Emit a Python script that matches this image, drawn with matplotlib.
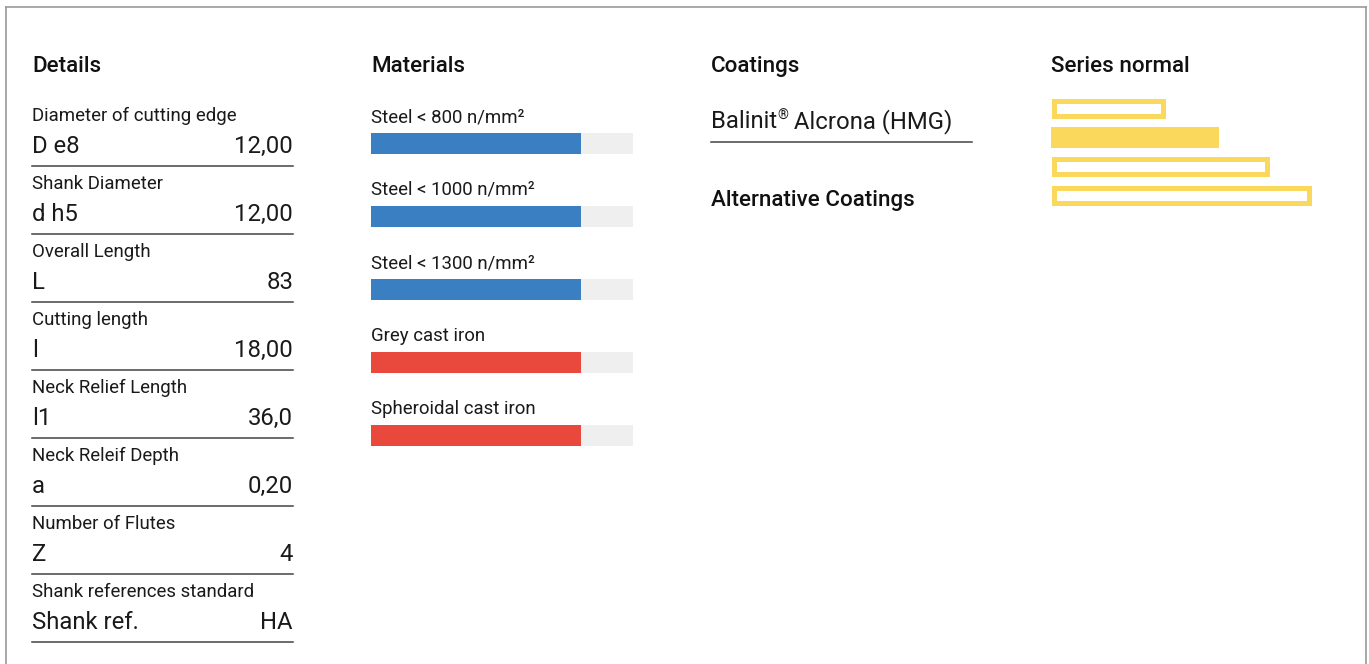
import matplotlib
matplotlib.use("Agg")
import matplotlib.pyplot as plt
from matplotlib.lines import Line2D

# ---- data ----
detail_labels = ["Diameter of cutting edge", "Shank Diameter", "Overall Length",
                 "Cutting length", "Neck Relief Length", "Neck Releif Depth",
                 "Number of Flutes", "Shank references standard"]
detail_symbols = ["D e8", "d h5", "L", "l", "l1", "a", "Z", "Shank ref."]
detail_values = ["12,00", "12,00", "83", "18,00", "36,0", "0,20", "4", "HA"]

material_names = ["Steel < 800 n/mm²", "Steel < 1000 n/mm²", "Steel < 1300 n/mm²",
                  "Grey cast iron", "Spheroidal cast iron"]
material_scores = [0.8, 0.8, 0.8, 0.8, 0.8]
material_groups = ["steel", "steel", "steel", "iron", "iron"]

coating_main = "Balinit"
coating_rest = " Alcrona (HMG)"

series_lengths = [0.44, 0.646, 0.842, 1.0]
series_filled = [False, True, False, False]

# ---- style ----
W, H = 1369, 664
TXT = "#1a1a1a"
group_colors = {"steel": "#3a7fc1", "iron": "#e8493c"}
track_color = "#efefef"
yellow = "#f9d85c"
body_font = ["Roboto", "DejaVu Sans"]
small_fs, big_fs = 13.4, 17.2
head_kw = dict(family=["Roboto", "DejaVu Sans"], fontweight="medium", fontsize=16.1,
               color="#111111", va="baseline")

fig = plt.figure(figsize=(W / 100, H / 100), dpi=100)
ax = fig.add_axes([0, 0, 1, 1])
ax.set_xlim(0, W)
ax.set_ylim(H, 0)
ax.axis("off")

# frame
for xs, ys in [((5.5, 1365.5), (6.5, 6.5)), ((5.5, 5.5), (6.5, 664)),
               ((1365.5, 1365.5), (6.5, 664))]:
    ax.add_line(Line2D(xs, ys, color="#9a9a9a", lw=1.2))

# headings
ax.text(32, 72, "Details", **head_kw)
ax.text(371, 72, "Materials", **head_kw)
ax.text(711, 72, "Coatings", **head_kw)
ax.text(711, 206, "Alternative Coatings", **head_kw)
ax.text(1051, 72, "Series normal", **head_kw)

# details table
pitch = 68
for i, (lab, sym, val) in enumerate(zip(detail_labels, detail_symbols, detail_values)):
    y0 = i * pitch
    ax.text(32, 121 + y0, lab, family=body_font, fontsize=small_fs, color=TXT, va="baseline")
    ax.text(32, 153 + y0, sym, family=body_font, fontsize=big_fs, color=TXT, va="baseline")
    ax.text(293, 153 + y0, val, family=body_font, fontsize=big_fs, color=TXT,
            va="baseline", ha="right")
    ax.plot([32, 293], [165.5 + y0, 165.5 + y0], color="#444444", lw=1.1)

# materials
mpitch = 73
bar_x0, bar_w, bar_h = 371, 262, 21
for i, (name, score, grp) in enumerate(zip(material_names, material_scores, material_groups)):
    y0 = i * mpitch
    ax.text(371, 122 + y0, name, family=body_font, fontsize=small_fs, color=TXT, va="baseline")
    yc = 143.5 + y0
    ax.barh(yc, bar_w, left=bar_x0, height=bar_h, color=track_color, linewidth=0)
    ax.barh(yc, score * bar_w, left=bar_x0, height=bar_h,
            color=group_colors[grp], linewidth=0)

# coatings
t = ax.text(711, 128, coating_main, family=body_font, fontsize=big_fs, color=TXT, va="baseline")
fig.canvas.draw()
bb = t.get_window_extent()
t2 = ax.text(bb.x1 + 0.5, 119.5, "®", family=body_font, fontsize=10, color=TXT, va="baseline")
fig.canvas.draw()
bb2 = t2.get_window_extent()
ax.text(bb2.x1 - 0.5, 128, coating_rest, family=body_font, fontsize=big_fs, color=TXT,
        va="baseline")
ax.plot([711, 972], [141.5, 141.5], color="#444444", lw=1.1)

# series normal bars
s_x0, s_full, s_h, s_lw = 1051, 260, 20, 5
for i, (length, filled) in enumerate(zip(series_lengths, series_filled)):
    ytop = 98 + i * 29.3
    wpx = length * s_full
    if filled:
        ax.barh(ytop + s_h / 2, wpx, left=s_x0, height=s_h + 1, color=yellow, linewidth=0)
    else:
        ax.barh(ytop + s_h / 2, wpx - s_lw, left=s_x0 + s_lw / 2, height=s_h - s_lw,
                facecolor="white", edgecolor=yellow, linewidth=s_lw * 0.72,
                joinstyle="miter")

fig.savefig("out.png", dpi=100, facecolor="white")
